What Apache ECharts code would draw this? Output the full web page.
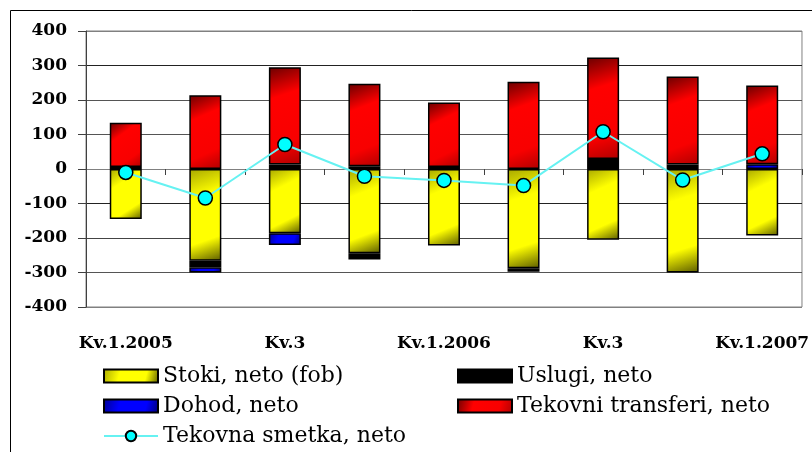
<!DOCTYPE html>
<html>
<head>
<meta charset="utf-8">
<script src="https://cdn.jsdelivr.net/npm/echarts@6/dist/echarts.min.js"></script>
<style>
html,body{margin:0;padding:0;background:#fff;}
#chart{width:812px;height:452px;}
</style>
</head>
<body>
<div id="chart"></div>
<script>
var categories = ['Kv.1.2005','Kv.2','Kv.3','Kv.4','Kv.1.2006','Kv.2','Kv.3','Kv.4','Kv.1.2007'];
var stoki    = [-145, -266, -186, -244, -222, -288, -205, -300, -193];
var uslugi   = [6, -19, 13, -18, 6, -10, 29, 13, null];
var dohod    = [null, -15, -34, 8, null, null, null, null, 14];
var transferi= [128, 214, 282, 239, 187, 253, 294, 255, 228];
var smetka   = [-10, -84, 71, -21, -33, -48, 108, -32, 44];
var yTicks   = [-400, -300, -200, -100, 0, 100, 200, 300, 400];

var names = {
  stoki: 'Stoki, neto (fob)',
  uslugi: 'Uslugi, neto',
  dohod: 'Dohod, neto',
  transferi: 'Tekovni transferi, neto',
  smetka: 'Tekovna smetka, neto'
};

function grad(c0, c1, c2, c3) {
  return new echarts.graphic.LinearGradient(0, 0, 1, 1, [
    {offset: 0, color: c0},
    {offset: 0.3, color: c1},
    {offset: 0.75, color: c2},
    {offset: 1, color: c3}
  ]);
}

var chart = echarts.init(document.getElementById('chart'), null, {renderer: 'canvas'});
var serif = 'DejaVu Serif';
var barW = 32;
var barBase = {type: 'bar', stack: 'ca', barWidth: barW, xAxisIndex: 0};

var option = {
  backgroundColor: '#fff',
  animation: false,
  textStyle: {fontFamily: serif},
  graphic: [{
    type: 'rect', silent: true,
    shape: {x: 10.5, y: 10.5, width: 900, height: 600},
    style: {fill: 'none', stroke: '#000', lineWidth: 1}
  }],
  grid: {left: 86, right: 7, top: 31, bottom: 145, show: true,
    borderColor: '#808080', borderWidth: 1, containLabel: false},
  legend: [{
    orient: 'vertical', left: 103, top: 364, padding: 0,
    itemWidth: 54, itemHeight: 13, itemGap: 6,
    textStyle: {fontFamily: serif, fontSize: 22, color: '#000', lineHeight: 24},
    data: [{name: names.stoki, icon: 'rect'}, {name: names.dohod, icon: 'rect'}, names.smetka]
  }, {
    orient: 'vertical', left: 457, top: 364, padding: 0,
    itemWidth: 54, itemHeight: 13, itemGap: 6,
    textStyle: {fontFamily: serif, fontSize: 22, color: '#000', lineHeight: 24},
    data: [{name: names.uslugi, icon: 'rect'}, {name: names.transferi, icon: 'rect'}]
  }],
  xAxis: [{
    type: 'category', data: categories, position: 'bottom',
    axisLine: {show: false, onZero: false},
    axisTick: {show: false},
    axisLabel: {interval: 1, margin: 28, fontFamily: serif, fontWeight: 'bold',
      fontSize: 17, color: '#000'},
    splitLine: {show: false}
  }, {
    type: 'category', data: categories, position: 'bottom',
    axisLine: {show: true, onZero: true, lineStyle: {color: '#808080', width: 1}},
    axisTick: {show: true, interval: 0, length: 6, lineStyle: {color: '#404040'}},
    axisLabel: {show: false},
    splitLine: {show: false}
  }],
  yAxis: {
    type: 'value', min: yTicks[0], max: yTicks[yTicks.length - 1], interval: 100,
    axisLine: {show: true, lineStyle: {color: '#404040', width: 1}},
    axisTick: {show: true, length: 8, lineStyle: {color: '#404040'}},
    axisLabel: {margin: 19, fontFamily: serif, fontWeight: 'bold', fontSize: 17, color: '#000'},
    splitLine: {show: true, lineStyle: {
      color: ['#808080', '#555', '#444', '#222', '#808080', '#555', '#555', '#222', '#808080'],
      width: 1}}
  },
  series: [
    Object.assign({}, barBase, {name: names.stoki, data: stoki,
      itemStyle: {borderColor: '#000', borderWidth: 1.5,
        color: grad('#a8a800', '#ffff00', '#ffff00', '#5a5a00')}}),
    Object.assign({}, barBase, {name: names.uslugi, data: uslugi,
      itemStyle: {borderColor: '#000', borderWidth: 1.5, color: '#000'}}),
    Object.assign({}, barBase, {name: names.dohod, data: dohod,
      itemStyle: {borderColor: '#000', borderWidth: 1.5,
        color: grad('#000090', '#0000ff', '#0000ff', '#000070')}}),
    Object.assign({}, barBase, {name: names.transferi, data: transferi,
      itemStyle: {borderColor: '#000', borderWidth: 1.5,
        color: grad('#6a0000', '#ff0000', '#f80000', '#b00000')}}),
    {
      name: names.smetka, type: 'line', data: smetka, xAxisIndex: 0, z: 10,
      symbol: 'circle', symbolSize: 14,
      lineStyle: {color: '#66f2f2', width: 2},
      itemStyle: {color: '#00ffff', borderColor: '#000', borderWidth: 1.5}
    }
  ]
};
chart.setOption(option);
</script>
</body>
</html>
